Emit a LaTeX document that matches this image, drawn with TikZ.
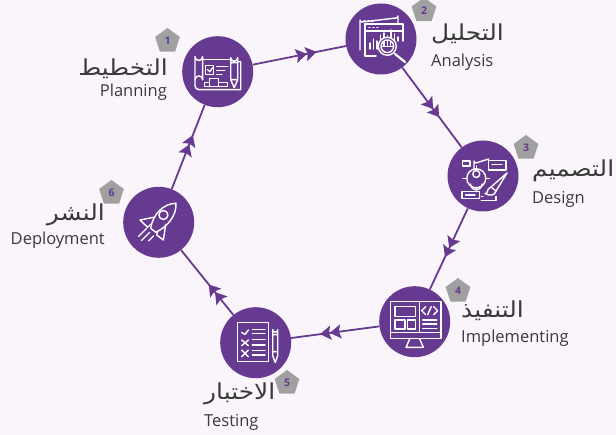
\documentclass[tikz,border=0pt]{standalone}
\usepackage{fontspec}
\usetikzlibrary{decorations.markings,arrows.meta,shapes.geometric}
\setmainfont{Open Sans}
\newfontfamily\arabicfont[Script=Arabic,FakeStretch=1.13]{DejaVu Sans}
\TeXXeTstate=1
\definecolor{stagepurple}{HTML}{663A91}
\definecolor{pagetint}{HTML}{FAF5FB}
\definecolor{badgegray}{HTML}{A0A0A0}
\definecolor{labelgray}{HTML}{3A3A3A}
\tikzset{
	stage/.style={circle,fill=stagepurple,minimum size=71pt,inner sep=0pt},
	badge/.style={regular polygon,regular polygon sides=5,fill=badgegray,minimum size=26pt,inner sep=0pt,text=stagepurple,font=\bfseries\fontsize{10.5}{10.5}\selectfont},
	arname/.style={font=\arabicfont\fontsize{22}{22}\selectfont,text=labelgray,inner sep=0pt},
	enname/.style={font=\fontsize{16.5}{16.5}\selectfont,text=labelgray,inner sep=0pt},
	link/.style={stagepurple,line width=1.8pt},
	tip/.tip={Stealth[length=11pt,width=14pt,inset=2pt]},
	twotip/.style={postaction={decorate,decoration={markings,mark=at position #1 with {\arrow{tip}\pgftransformxshift{10pt}\arrow{tip}}}}},
	ico/.style={draw=white,line width=1.4pt,line join=round,line cap=round}
}
\begin{document}
\begin{tikzpicture}[x=1pt,y=-1pt]
	\useasboundingbox[fill=pagetint] (0,0) rectangle (616,435);

	\node[stage] (s1) at (217.7,71.7) {};
	\node[stage] (s2) at (381,39) {};
	\node[stage] (s3) at (483,176) {};
	\node[stage] (s4) at (414.7,321.7) {};
	\node[stage] (s5) at (255.7,342.7) {};
	\node[stage] (s6) at (158.7,222.3) {};

	\draw[link,twotip=0.58] (s1) -- (s2);
	\draw[link,twotip=0.52] (s2) -- (s3);
	\draw[link,twotip=0.49] (s3) -- (s4);
	\draw[link,twotip=0.56] (s4) -- (s5);
	\draw[link,twotip=0.35] (s5) -- (s6);
	\draw[link,twotip=0.53] (s6) -- (s1);

	\node[badge] (b1) at (167.5,41) {1};
	\node[badge] (b2) at (424,10.5) {2};
	\node[badge] (b3) at (526,148) {3};
	\node[badge] (b4) at (458,291) {4};
	\node[badge] (b5) at (287,383) {5};
	\node[badge] (b6) at (111.5,193) {6};

	\node[arname,anchor=east] (a1) at (168,69) {\beginR التخطيط\endR};
	\node[enname,anchor=east] (e1) at (167,92) {Planning};
	\node[arname,anchor=west] (a2) at (431,33.5) {\beginR التحليل\endR};
	\node[enname,anchor=west] (e2) at (431,62) {Analysis};
	\node[arname,anchor=west] (a3) at (532,171) {\beginR التصميم\endR};
	\node[enname,anchor=west] (e3) at (532,199) {Design};
	\node[arname,anchor=west] (a4) at (461,311) {\beginR التنفيذ\endR};
	\node[enname,anchor=west] (e4) at (461,338) {Implementing};
	\node[arname,anchor=west] (a5) at (204,394) {\beginR الاختبار\endR};
	\node[enname,anchor=west] (e5) at (204,422) {Testing};
	\node[arname,anchor=east] (a6) at (105,215) {\beginR النشر\endR};
	\node[enname,anchor=east] (e6) at (105,240) {Deployment};

	% planning
	\begin{scope}[shift={(s1)},ico]
		\draw (-22.7,14) -- (-22.7,-15) arc (180:0:3.8) -- (-15,8);
		\draw (-22.7,14) arc (180:90:4) -- (23,18) -- (23,-10) -- (20,-10);
		\draw (-15,-12) -- (12,-12);
		\draw (-15,8) arc (0:-180:3.8);
		\draw (-12,-6) rectangle (-4,3);
		\draw (-10,-2) -- (-8,0) -- (-5,-4);
		\draw (-1,-5) -- (10,-5) (-1,-1) -- (7,-1) (-1,3) -- (4,3);
		\draw (-13,15) -- (-13,11) -- (-8,11) -- (-8,7) -- (1,7) -- (1,11) -- (10,11) -- (10,15) -- cycle;
		\draw (-8,11) -- (-8,15) (1,11) -- (1,15);
		\draw (13,-14) arc (180:0:3.5) -- (20,8) -- (16.5,16) -- (13,8) -- cycle (13,-9) -- (20,-9) (13,8) -- (20,8);
	\end{scope}
	% analysis
	\begin{scope}[shift={(s2)},ico]
		\draw (-21,11) -- (-21,-19) arc (180:90:2) -- (15,-21) arc (90:0:2) -- (17,-15);
		\draw (-5,17) -- (-16,17) -- (-16,-15) -- (22,-15) -- (22,2);
		\draw (-16,-8) -- (22,-8);
		\draw (-17,-18) -- (-16,-18) (-13,-18) -- (-12,-18) (-9,-18) -- (-8,-18);
		\draw (-12,-11.7) -- (-11,-11.7) (-8,-11.7) -- (-7,-11.7) (-4,-11.7) -- (-3,-11.7);
		\draw (-11,10) -- (-11,4) (-7.5,10) -- (-7.5,0) (-4,10) -- (-4,2) (-.5,3) -- (-.5,-4) (3,0) -- (3,-6) (6.5,0) -- (6.5,-3) (10,0) -- (10,-9) (13.5,2) -- (13.5,-5) (17,2) -- (17,-2);
		\draw[fill=stagepurple] (6.3,7.3) circle (9);
		\draw (6.3,7.3) circle (6.3);
		\draw (0.5,7.3) -- (12,7.3) (3,3) -- (3,7) (6.3,2) -- (6.3,7) (9.5,3) -- (9.5,7);
		\draw[line width=2.2pt] (14,15) -- (24,23);
	\end{scope}
	% design
	\begin{scope}[shift={(s3)},ico]
		\draw (-20.7,-15) rectangle (-13,-10);
		\draw (-9,-7) -- (-9,-15) arc (180:90:2) -- (5.7,-17);
		\draw (5.7,-15.3) rectangle (23,-6) (9,-11.5) -- (19,-11.5);
		\draw (-6.7,2.3) circle (9.5) (-6.7,-2) circle (3.5) (-12.5,8) arc (180:0:5.8);
		\draw (-20,2.3) -- (-16.2,2.3) (2.8,2.3) -- (6.5,2.3) (-6.7,-7.2) -- (-6.7,-10) (-6.7,11.8) -- (-6.7,15.7);
		\draw (-21,15.7) rectangle (-3.3,22.3) (-17.5,19) -- (-8,19);
		\draw (8,11) -- (24,-3) -- (13,15) -- cycle;
		\draw (8,11) .. controls (3,13) and (5,19) .. (2,17.5) .. controls (6,20) and (12,20) .. (13,15);
		\draw (-1.7,24.5) -- (13,24.5) -- (13,20.5) (0,20.5) -- (-1.7,20.5);
	\end{scope}
	% implementing
	\begin{scope}[shift={(s4)},ico]
		\draw (-24,-20) rectangle (26.3,16.7);
		\draw (4.7,-20) -- (4.7,10.7) (-24,10.7) -- (26.3,10.7);
		\draw (-19.7,-15) rectangle (1,-5) (-19.7,-1.7) rectangle (-9.7,7.3) (-7.3,-1.7) rectangle (1,7.3);
		\draw (11,-15) -- (7,-11) -- (11,-7) (19,-15) -- (23,-11) -- (19,-7) (13,-7) -- (16.5,-15);
		\draw (8,-1.7) -- (22,-1.7) (8,2.3) -- (22,2.3) (8,7) -- (22,7);
		\draw (-4.7,16.7) -- (-8.7,25.7) -- (8.7,25.7) -- (4.7,16.7);
	\end{scope}
	% testing
	\begin{scope}[shift={(s5)},ico]
		\draw (-18,-20) rectangle (13,19);
		\draw (-14,-10.3) -- (-10.7,-8.3) -- (-7.3,-12.7);
		\draw (-14,-2.7) -- (-7.3,3) (-7.3,-2.7) -- (-14,3) (-14,7.3) -- (-7.3,14) (-7.3,7.3) -- (-14,14);
		\draw (-3.3,-13) -- (9.3,-13) (-3.3,-9) -- (9.3,-9) (-3.3,-3) -- (9.3,-3) (-3.3,2.3) -- (9.3,2.3) (-3.3,8) -- (9.3,8) (-3.3,12.3) -- (9.3,12.3);
		\draw (17,-13) arc (180:0:2.5) -- (22,13) -- (19.5,19.7) -- (17,13) -- cycle (17,9) -- (22,9) (17,-8) -- (22,-8);
	\end{scope}
	% deployment
	\begin{scope}[shift={(s6)},ico]
		\draw (-8,6) .. controls (-6,-8) and (5,-19) .. (17.3,-19) .. controls (18,-6) and (8,5) .. (-3,10) -- cycle;
		\draw (4.7,-7.3) circle (4.5);
		\draw (-5,-5) -- (-18.7,-2.3) -- (-11,5) -- (-8,2);
		\draw (7,2) -- (4.7,17.7) -- (-2,12.7) -- (-1,9);
		\draw (-20,14) -- (-12,6) (-17,18) -- (-9,10) (-10,18.5) -- (-5,13.5);
	\end{scope}
\end{tikzpicture}
\end{document}
